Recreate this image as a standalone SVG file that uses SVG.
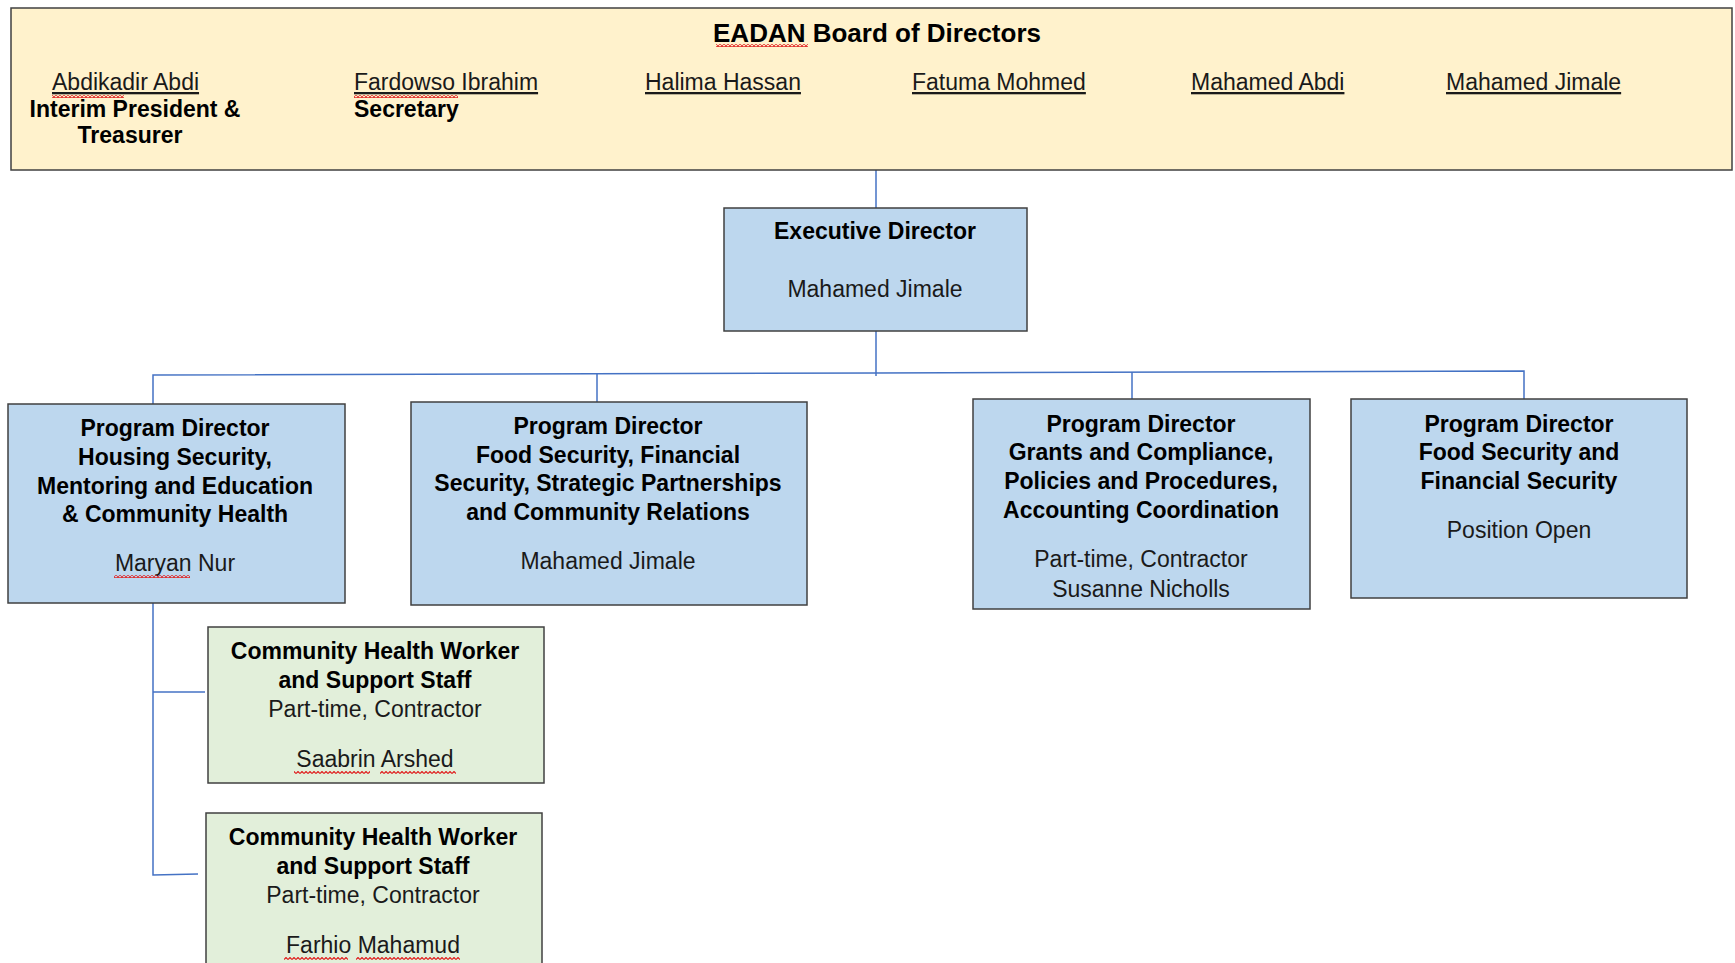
<svg xmlns="http://www.w3.org/2000/svg" width="1735" height="963" viewBox="0 0 1735 963">
<style>
text{font-family:"Liberation Sans",Arial,sans-serif;font-size:23px;fill:#1a1a1a}
.b{font-weight:bold;fill:#000}
.m{text-anchor:middle}
.u{text-decoration:underline}
.t{font-size:26px}
.blue{fill:#BDD7EE;stroke:#404040;stroke-width:1.5}
.green{fill:#E2EFDA;stroke:#404040;stroke-width:1.5}
.board{fill:#FFF2CC;stroke:#404040;stroke-width:1.5}
.conn{fill:none;stroke:#4472C4;stroke-width:1.5}
</style>
<defs>
<pattern id="sq" width="4" height="3" patternUnits="userSpaceOnUse">
<path d="M0 2.5 L2 0.5 L4 2.5" fill="none" stroke="#E02020" stroke-width="1.2"/>
</pattern>
</defs>
<rect width="1735" height="963" fill="#fff"/>
<g id="connectors">
<path class="conn" d="M876 170 V208"/>
<path class="conn" d="M876 331 V376"/>
<path class="conn" d="M153 404 V375 L876 373 L1524 371 V399"/>
<path class="conn" d="M597 374 V402"/>
<path class="conn" d="M1132 372 V399"/>
<path class="conn" d="M153 603 V875 L198 874"/>
<path class="conn" d="M153 692 H205"/>
</g>
<g id="board">
<rect class="board" x="11" y="8" width="1721" height="162"/>
<text class="b m t" x="877" y="42">EADAN Board of Directors</text>
<text class="u" x="52" y="90">Abdikadir Abdi</text>
<text class="b m" x="135" y="117">Interim President &amp;</text>
<text class="b m" x="130" y="143">Treasurer</text>
<text class="u" x="354" y="90">Fardowso Ibrahim</text>
<text class="b" x="354" y="117">Secretary</text>
<text class="u" x="645" y="90">Halima Hassan</text>
<text class="u" x="912" y="90">Fatuma Mohmed</text>
<text class="u" x="1191" y="90">Mahamed Abdi</text>
<text class="u" x="1446" y="90">Mahamed Jimale</text>
</g>
<g id="exec">
<rect class="blue" x="724" y="208" width="303" height="123"/>
<text class="b m" x="875" y="239">Executive Director</text>
<text class="m" x="875" y="297">Mahamed Jimale</text>
</g>
<g id="pd-housing">
<rect class="blue" x="8" y="404" width="337" height="199"/>
<text class="b m" x="175" y="436">Program Director</text>
<text class="b m" x="175" y="465">Housing Security,</text>
<text class="b m" x="175" y="494">Mentoring and Education</text>
<text class="b m" x="175" y="522">&amp; Community Health</text>
<text class="m" x="175" y="571">Maryan Nur</text>
</g>
<g id="pd-food">
<rect class="blue" x="411" y="402" width="396" height="203"/>
<text class="b m" x="608" y="434">Program Director</text>
<text class="b m" x="608" y="463">Food Security, Financial</text>
<text class="b m" x="608" y="491">Security, Strategic Partnerships</text>
<text class="b m" x="608" y="520">and Community Relations</text>
<text class="m" x="608" y="569">Mahamed Jimale</text>
</g>
<g id="pd-grants">
<rect class="blue" x="973" y="399" width="337" height="210"/>
<text class="b m" x="1141" y="432">Program Director</text>
<text class="b m" x="1141" y="460">Grants and Compliance,</text>
<text class="b m" x="1141" y="489">Policies and Procedures,</text>
<text class="b m" x="1141" y="518">Accounting Coordination</text>
<text class="m" x="1141" y="567">Part-time, Contractor</text>
<text class="m" x="1141" y="597">Susanne Nicholls</text>
</g>
<g id="pd-food2">
<rect class="blue" x="1351" y="399" width="336" height="199"/>
<text class="b m" x="1519" y="432">Program Director</text>
<text class="b m" x="1519" y="460">Food Security and</text>
<text class="b m" x="1519" y="489">Financial Security</text>
<text class="m" x="1519" y="538">Position Open</text>
</g>
<g id="chw1">
<rect class="green" x="208" y="627" width="336" height="156"/>
<text class="b m" x="375" y="659">Community Health Worker</text>
<text class="b m" x="375" y="688">and Support Staff</text>
<text class="m" x="375" y="717">Part-time, Contractor</text>
<text class="m" x="375" y="767">Saabrin Arshed</text>
</g>
<g id="chw2">
<rect class="green" x="206" y="813" width="336" height="160"/>
<text class="b m" x="373" y="845">Community Health Worker</text>
<text class="b m" x="373" y="874">and Support Staff</text>
<text class="m" x="373" y="903">Part-time, Contractor</text>
<text class="m" x="373" y="953">Farhio Mahamud</text>
</g>
<g id="spellcheck">
<rect x="716" y="44" width="92" height="3" fill="url(#sq)"/>
<rect x="52" y="95" width="72" height="3" fill="url(#sq)"/>
<rect x="354" y="95" width="104" height="3" fill="url(#sq)"/>
<rect x="114" y="575" width="76" height="3" fill="url(#sq)"/>
<rect x="294" y="771" width="76" height="3" fill="url(#sq)"/>
<rect x="380" y="771" width="76" height="3" fill="url(#sq)"/>
<rect x="284" y="957" width="64" height="3" fill="url(#sq)"/>
<rect x="356" y="957" width="104" height="3" fill="url(#sq)"/>
</g>
</svg>
